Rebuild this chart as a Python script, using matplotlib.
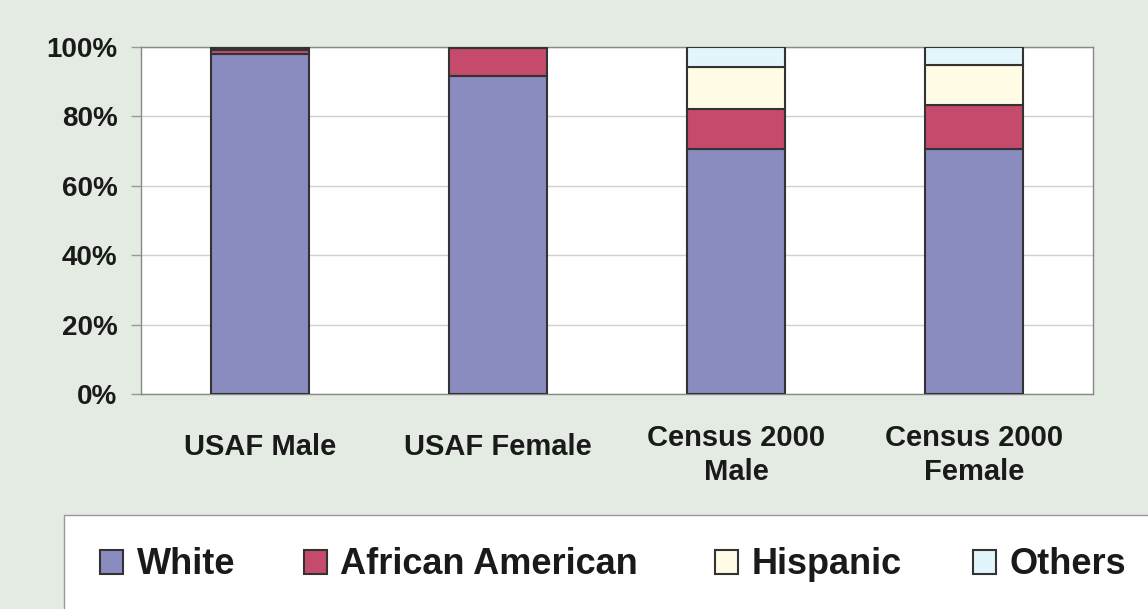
import numpy as np
import matplotlib
matplotlib.use("Agg")
import matplotlib.pyplot as plt
from matplotlib.patches import Rectangle
from matplotlib.ticker import PercentFormatter
from matplotlib.transforms import ScaledTranslation

plt.rcParams['font.family'] = ['Liberation Sans', 'DejaVu Sans']
plt.rcParams['font.weight'] = 'bold'

# share of each group, percent
groups = ['USAF Male', 'USAF Female', 'Census 2000\nMale', 'Census 2000\nFemale']
white = [97.9, 91.7, 70.5, 70.6]
african_american = [1.2, 7.9, 11.5, 12.6]
hispanic = [0.5, 0.2, 12.3, 11.5]
others = [0.4, 0.2, 5.7, 5.3]

series = ['White', 'African American', 'Hispanic', 'Others']
colors = ['#8a8bbf', '#c64a6b', '#fffbe4', '#e2f5fa']

bg = '#e4ebe2'
fig = plt.figure(figsize=(11.48, 6.09), dpi=100, facecolor=bg)
ax = fig.add_axes([141/1148, 1 - 394/609, (1093 - 141)/1148, (394 - 47)/609])
ax.set_facecolor('white')

x = np.arange(len(groups))
bottom = np.zeros(len(groups))
bars = []
for name, vals, c in zip(series, [white, african_american, hispanic, others], colors):
    b = ax.bar(x, vals, width=0.41, bottom=bottom, color=c,
               edgecolor='#333333', linewidth=1.5, zorder=3, label=name)
    bars.append(b)
    bottom += np.array(vals)

ax.set_xlim(-0.5, 3.5)
ax.set_ylim(0, 100)
ax.set_yticks(np.arange(0, 101, 20))
ax.yaxis.set_major_formatter(PercentFormatter(decimals=0))
ax.grid(axis='y', color='#d0d0d0', linewidth=1, zorder=0)
ax.tick_params(axis='y', length=7, width=1, color='#999999', pad=10,
               labelsize=20, labelcolor='#1a1a1a')
ax.set_xticks(x)
ax.set_xticklabels(groups, fontsize=21, color='#1a1a1a', va='center',
                   linespacing=1.3)
ax.tick_params(axis='x', length=0, pad=38)
# two-line labels sit a little lower
for lbl in ax.get_xticklabels():
    if '\n' in lbl.get_text():
        lbl.set_transform(lbl.get_transform() +
                          ScaledTranslation(0, -6/72, fig.dpi_scale_trans))
for s in ax.spines.values():
    s.set_color('#888888')
    s.set_linewidth(1)

# legend panel along the bottom
fig.patches.append(Rectangle((64/1148, -0.1), 1.2, 0.1 + (1 - 515/609),
                             transform=fig.transFigure, facecolor='white',
                             edgecolor='#999999', linewidth=1, zorder=0))
entry_x = [100, 304, 715, 973]
for b, name, ex in zip(bars, series, entry_x):
    fig.legend([b], [name], loc='center left',
               bbox_to_anchor=(ex/1148, 1 - 565/609), frameon=False,
               borderaxespad=0, borderpad=0, handlelength=0.63,
               handleheight=0.63, handletextpad=0.38,
               prop={'size': 26, 'weight': 'bold'}, labelcolor='#1a1a1a')

fig.savefig('out.png', dpi=100, facecolor=bg)
